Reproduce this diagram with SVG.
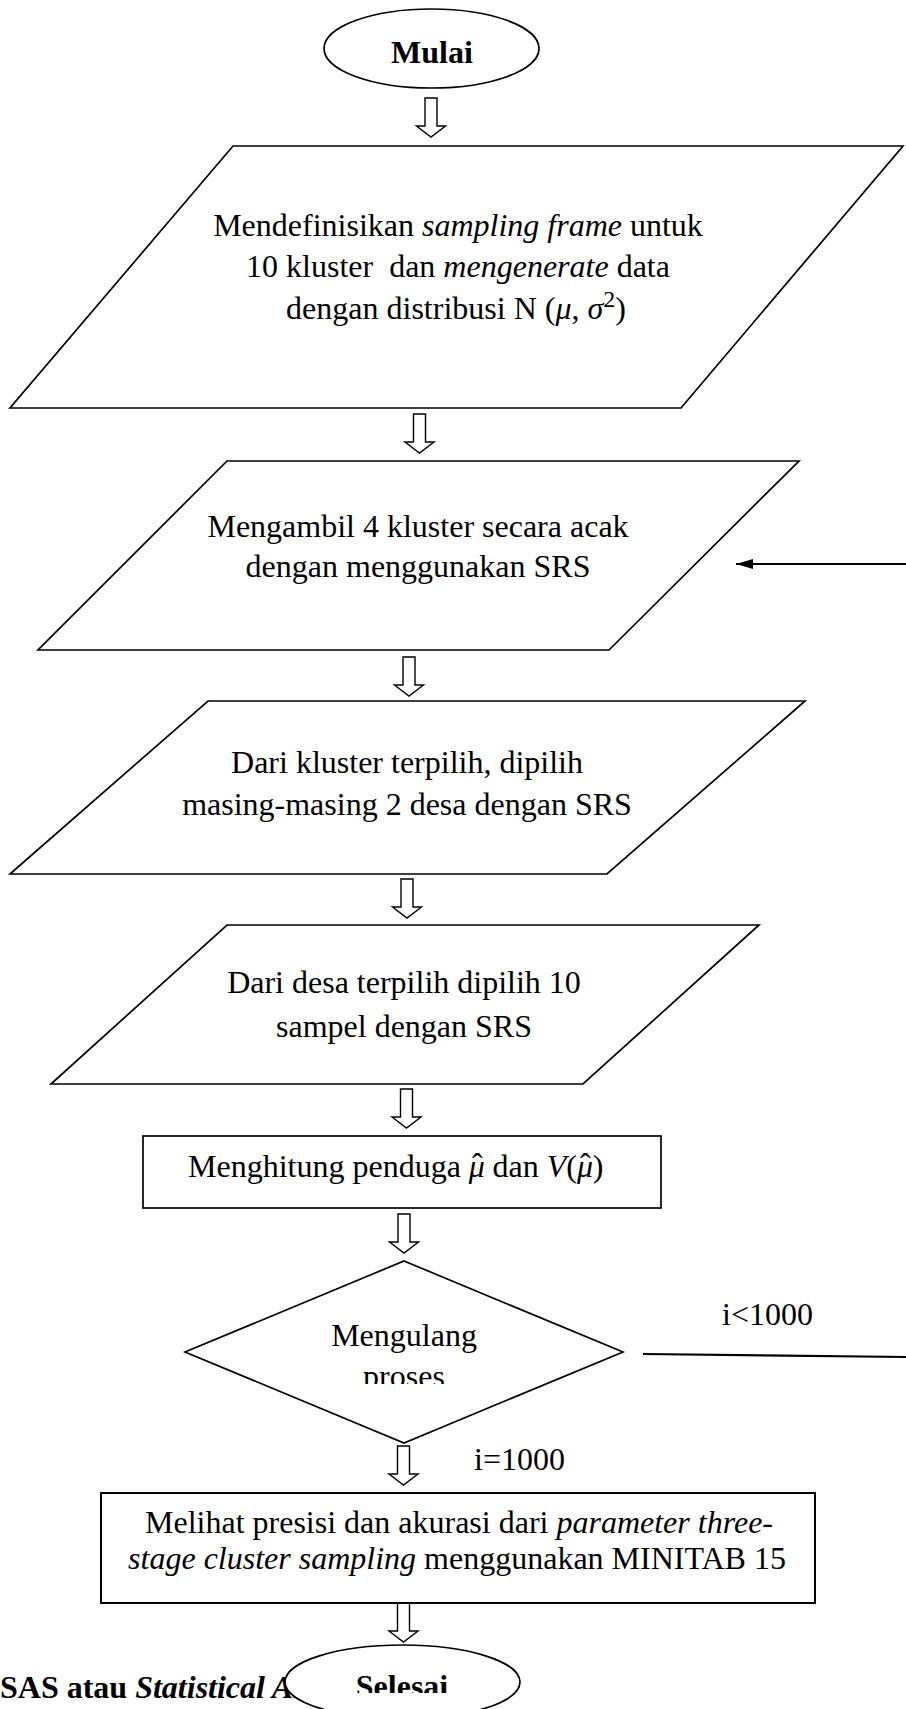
<svg xmlns="http://www.w3.org/2000/svg" xmlns:xlink="http://www.w3.org/1999/xlink" width="906" height="1709" viewBox="0 0 906 1709">
<style>
.shape{fill:#fff;stroke:#000;stroke-width:1.7}
.t{font-family:"Liberation Serif","Times New Roman",serif;font-size:32px;fill:#000}
.c{text-anchor:middle}
.b{font-weight:bold}
.i{font-style:italic}
.blk{fill:#fff;stroke:#000;stroke-width:1.4}
.conn{stroke:#000;stroke-width:2.2;fill:none}
</style>
<defs>
<path id="barrow" class="blk" d="M-6,0 H6 V28 H14.5 L0,39 L-14.5,28 H-6 Z"/>
<marker id="ah" markerWidth="18" markerHeight="12" refX="17" refY="5" orient="auto" markerUnits="userSpaceOnUse">
<path d="M0,0 L17,5 L0,10 Z" fill="#000"/>
</marker>
<clipPath id="clipProses"><rect x="0" y="1300" width="906" height="84"/></clipPath>
<clipPath id="clipSelesai"><rect x="0" y="1600" width="906" height="93"/></clipPath>
</defs>

<text class="t b" x="0" y="1698">SAS atau <tspan class="i">Statistical An</tspan></text>

<g id="connectors">
<use xlink:href="#barrow" x="431" y="98"/>
<use xlink:href="#barrow" x="419.5" y="414"/>
<use xlink:href="#barrow" x="409" y="657"/>
<use xlink:href="#barrow" x="407" y="879"/>
<use xlink:href="#barrow" x="406.5" y="1089"/>
<use xlink:href="#barrow" x="404" y="1214"/>
<use xlink:href="#barrow" x="403.5" y="1446"/>
<use xlink:href="#barrow" x="403.5" y="1603"/>
<line class="conn" x1="643" y1="1354" x2="906" y2="1357"/>
<line class="conn" x1="906" y1="564" x2="736" y2="564" marker-end="url(#ah)"/>
<text class="t" x="722" y="1325">i&lt;1000</text>
<text class="t" x="474" y="1470">i=1000</text>
</g>

<g id="start">
<ellipse class="shape" cx="431.5" cy="48.5" rx="107.5" ry="39.5"/>
<text class="t b c" x="432" y="63">Mulai</text>
</g>

<g id="define">
<polygon class="shape" points="233,146 903,146 681,408 10,408"/>
<text class="t c" x="458" y="236">Mendefinisikan <tspan class="i">sampling frame</tspan> untuk</text>
<text class="t c" x="458" y="277" xml:space="preserve">10 kluster  dan <tspan class="i">mengenerate</tspan> data</text>
<text class="t c" x="456" y="319">dengan distribusi N (<tspan class="i">μ</tspan>, <tspan class="i">σ</tspan><tspan font-size="24" dy="-12">2</tspan><tspan dy="12">)</tspan></text>
</g>

<g id="cluster">
<polygon class="shape" points="227,461 799,461 609,650 38,650"/>
<text class="t c" x="418" y="537">Mengambil 4 kluster secara acak</text>
<text class="t c" x="418" y="577">dengan menggunakan SRS</text>
</g>

<g id="desa">
<polygon class="shape" points="208,701 805,701 607,874 10,874"/>
<text class="t c" x="407" y="773">Dari kluster terpilih, dipilih</text>
<text class="t c" x="407" y="815">masing-masing 2 desa dengan SRS</text>
</g>

<g id="sampel">
<polygon class="shape" points="227,925 759,925 583,1084 51,1084"/>
<text class="t c" x="404" y="993">Dari desa terpilih dipilih 10</text>
<text class="t c" x="404" y="1037">sampel dengan SRS</text>
</g>

<g id="hitung">
<rect class="shape" x="143" y="1136" width="518" height="72"/>
<text class="t" x="188" y="1177">Menghitung penduga <tspan class="i">μ</tspan><tspan dx="-13" dy="-2">ˆ</tspan><tspan dx="2" dy="2"> dan </tspan><tspan class="i">V</tspan>(<tspan class="i">μ</tspan><tspan dx="-13" dy="-2">ˆ</tspan><tspan dx="2" dy="2">)</tspan></text>
</g>

<g id="ulang">
<polygon class="shape" points="404,1261 623,1352 404,1443 185,1352"/>
<text class="t c" x="404" y="1346">Mengulang</text>
<text class="t c" x="404" y="1387" clip-path="url(#clipProses)">proses</text>
</g>

<g id="lihat">
<rect class="shape" x="101" y="1493" width="714" height="110" style="stroke-width:2"/>
<text class="t c" x="459" y="1533">Melihat presisi dan akurasi dari <tspan class="i">parameter three</tspan>-</text>
<text class="t c" x="457" y="1569"><tspan class="i">stage cluster sampling</tspan> menggunakan MINITAB 15</text>
</g>

<g id="end">
<ellipse class="shape" cx="402.5" cy="1682" rx="117.5" ry="37"/>
<text class="t b c" x="402" y="1697" clip-path="url(#clipSelesai)">Selesai</text>
</g>
</svg>
